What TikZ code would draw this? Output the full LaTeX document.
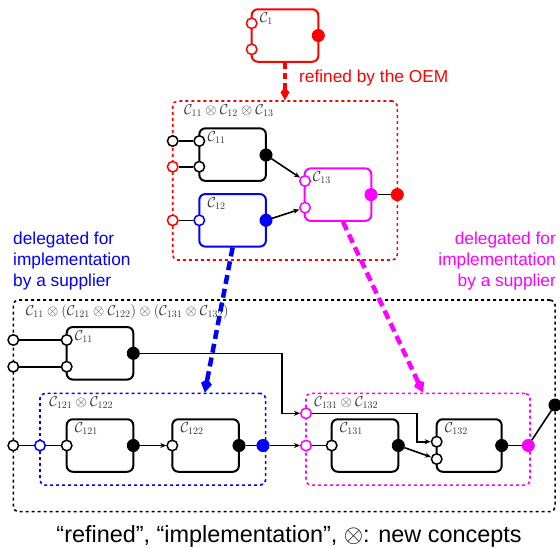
\documentclass[tikz,border=0pt]{standalone}
\usepackage{fontspec}
\setmainfont{Liberation Sans}
\usepackage{tikz}
\usetikzlibrary{arrows.meta}
\definecolor{oemred}{HTML}{FF0000}
\definecolor{supblue}{HTML}{0000FF}
\definecolor{supmag}{HTML}{FF00FF}
\definecolor{ink}{HTML}{000000}
\tikzset{
  comp/.style={draw, line width=2pt, rounded corners=6pt, minimum width=66.6pt, minimum height=52.5pt, inner sep=0pt},
  grp/.style={draw, line width=1.6pt, dash pattern=on 3pt off 3pt, rounded corners=5pt, inner sep=0pt},
  pin/.style={circle, draw, fill=white, line width=1.5pt, minimum size=10.5pt, inner sep=0pt},
  pout/.style={circle, draw, fill, line width=1pt, minimum size=12pt, inner sep=0pt},
  wire/.style={line width=1.6pt, color=ink},
  arr/.style={wire, -{Stealth[length=6pt, width=5pt]}},
  nm/.style={font=\fontsize{13.8}{16}\selectfont, text=ink!80, anchor=north west, inner sep=1pt},
  refine/.style={line width=3.5pt, dash pattern=on 6pt off 4pt, -{Kite[length=13pt, width=9pt, inset=5pt]}},
  deleg/.style={line width=4.5pt, dash pattern=on 9pt off 5pt, -{Kite[length=14pt, width=11pt, inset=5pt]}},
  lbl/.style={font=\fontsize{17.3}{21}\selectfont, inner sep=0pt},
}

\begin{document}
\begin{tikzpicture}[x=1pt, y=-1pt, sub/.style={comp, minimum width=65pt}]
    \useasboundingbox (0,0) rectangle (560,547);
    \node[grp, draw=oemred, minimum width=224.6pt, minimum height=159pt] (g1) at (285,180.5) {};
    \node[grp, draw=ink, minimum width=541.7pt, minimum height=211.7pt] (g2) at (284.2,405.8) {};
    \node[grp, draw=supblue, minimum width=225.7pt, minimum height=91.7pt] (g21) at (152.8,439.2) {};
    \node[grp, draw=supmag, minimum width=224pt, minimum height=91.7pt] (g22) at (418,439.2) {};
    \node[nm] (g1n) at ([shift={(11,3)}]g1.north west) {$\mathcal{C}_{11}\otimes\mathcal{C}_{12}\otimes\mathcal{C}_{13}$};
    \node[nm] (g2n) at ([shift={(12,4)}]g2.north west) {$\mathcal{C}_{11}\otimes(\mathcal{C}_{121}\otimes\mathcal{C}_{122})\otimes(\mathcal{C}_{131}\otimes\mathcal{C}_{132})$};
    \node[nm] (g21n) at ([shift={(9,3)}]g21.north west) {$\mathcal{C}_{121}\otimes\mathcal{C}_{122}$};
    \node[nm] (g22n) at ([shift={(8,3)}]g22.north west) {$\mathcal{C}_{131}\otimes\mathcal{C}_{132}$};
    \node[comp, draw=oemred] (c1) at (285,35.5) {};
    \node[comp] (c11) at (232.6,154.6) {};
    \node[comp, draw=supblue] (c12) at (232.6,220.3) {};
    \node[comp, draw=supmag] (c13) at (338,194.6) {};
    \node[comp] (l11) at (100,353.3) {};
    \node[comp] (c121) at (100,445.5) {};
    \node[comp] (c122) at (205.6,445.5) {};
    \node[comp] (c131) at (365,445.5) {};
    \node[sub] (c132) at (469.2,445.5) {};
    \foreach \c/\t in {c1/1,c11/{11},c12/{12},c13/{13},l11/{11},c121/{121},c122/{122},c131/{131},c132/{132}}
      \node[nm] (\c n) at ([shift={(8,3)}]\c.north west) {$\mathcal{C}_{\t}$};
    \node[pin, draw=oemred] (c1i1) at (251.7,23.3) {};
    \node[pin, draw=oemred] (c1i2) at (251.7,49.3) {};
    \node[pout, oemred] (c1o) at (318.3,35.5) {};
    \node[pin] (c11i1) at (199.3,141) {};
    \node[pin] (c11i2) at (199.3,166.7) {};
    \node[pout] (c11o) at (266,155) {};
    \node[pin, draw=supblue] (c12i) at (199.3,220.3) {};
    \node[pout, supblue] (c12o) at (266,220.3) {};
    \node[pin, draw=supmag] (c13i1) at (305,181) {};
    \node[pin, draw=supmag] (c13i2) at (305,207.7) {};
    \node[pout, supmag] (c13o) at (371,194.6) {};
    \node[pin] (g1i1) at (172.7,141) {};
    \node[pin, draw=oemred] (g1i2) at (172.7,166.7) {};
    \node[pin, draw=oemred] (g1i3) at (172.7,220.3) {};
    \node[pout, oemred] (g1o) at (397.3,194.6) {};
    \node[pin] (l11i1) at (66.7,340) {};
    \node[pin] (l11i2) at (66.7,366.7) {};
    \node[pout] (l11o) at (133.3,353.3) {};
    \node[pin] (c121i) at (66.7,445.5) {};
    \node[pout] (c121o) at (133.3,445.5) {};
    \node[pin] (c122i) at (172.3,445.5) {};
    \node[pout] (c122o) at (239,445.5) {};
    \node[pin] (c131i) at (331.7,445.5) {};
    \node[pout] (c131o) at (398.3,445.5) {};
    \node[pin] (c132i1) at (436.7,441.7) {};
    \node[pin] (c132i2) at (436.7,459) {};
    \node[pout] (c132o) at (501.7,445.5) {};
    \node[pin] (g2i1) at (13.3,340) {};
    \node[pin] (g2i2) at (13.3,366.7) {};
    \node[pin] (g2i3) at (13.3,445.5) {};
    \node[pout] (g2o) at (555,405) {};
    \node[pin, draw=supblue] (g21i) at (40,445.5) {};
    \node[pout, supblue] (g21o) at (263,445.5) {};
    \node[pin, draw=supmag] (g22i1) at (306,413.3) {};
    \node[pin, draw=supmag] (g22i2) at (306,445.5) {};
    \node[pout, supmag] (g22o) at (528.3,445.5) {};
    \coordinate (k1) at (281.7,413.3);
    \coordinate (k2) at (416.7,441.7);
    \foreach \a/\b in {g1i1/c11i1,g1i2/c11i2,g1i3/c12i,c13o/g1o,g2i1/l11i1,g2i2/l11i2,g2i3/g21i,g21i/c121i,c122o/g21o,g22i2/c131i,c132o/g22o,g22o/g2o} \draw[wire] (\a) -- (\b);
    \foreach \a/\b in {c11o/c13i1,c12o/c13i2,c121o/c122i,g21o/g22i2,c131o/c132i2} \draw[arr] (\a) -- (\b);
    \draw[arr] (l11o) -| (k1) -- (g22i1);
    \draw[arr] (g22i1) -| (k2) -- (c132i1);
    \draw[refine, oemred] (c1) -- (g1);
    \draw[deleg, supblue] (c12.south) -- ([xshift=52pt]g21.north);
    \draw[deleg, supmag] ([xshift=5pt]c13.south) -- ([xshift=5pt]g22.north);
    \node[lbl, text=oemred, anchor=west] (oem) at (299,78) {refined by the OEM};
    \node[lbl, text=supblue, align=left, anchor=west] (dl) at (13,261) {delegated for\\implementation\\by a supplier};
    \node[lbl, text=supmag, align=right, anchor=east] (dr) at (556,261) {delegated for\\implementation\\by a supplier};
    \node[font=\fontsize{23.4}{28}\selectfont, inner sep=0pt] (note) at (289,536) {``refined'', ``implementation'', $\otimes$: new concepts};
\end{tikzpicture}
\end{document}
